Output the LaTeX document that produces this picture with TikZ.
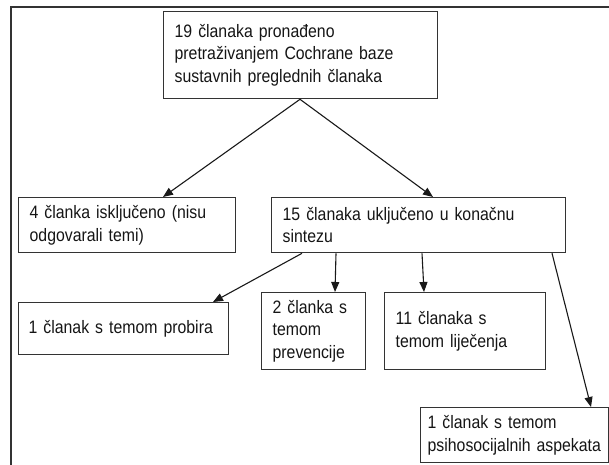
\documentclass[tikz,border=0pt]{standalone}
\usepackage{fontspec}
\setmainfont{Liberation Sans}[FakeStretch=0.88]
\usetikzlibrary{arrows.meta}
\definecolor{lineg}{HTML}{333333}
\definecolor{txtg}{HTML}{151515}
\begin{document}
\begin{tikzpicture}[x=1pt,y=-1pt,
  box/.style={draw=lineg, line width=1.3pt, anchor=north west, align=left,
    inner xsep=11pt, inner ysep=0pt, text=txtg,
    font=\fontsize{18}{22.5}\selectfont},
  arr/.style={draw=black!90, line width=1.1pt, -{Triangle[length=10pt,width=8pt]}}]
\useasboundingbox (0,0) rectangle (609,464);
\draw[lineg, line width=1.5pt] (11,470) -- (11,7) -- (615,7);
\node[box, text width=252pt, minimum height=87pt] (top) at (163,11)
  {19 članaka pronađeno\\pretraživanjem Cochrane baze\\sustavnih preglednih članaka};
\node[box, text width=195pt, minimum height=55pt] (b4) at (18,197)
  {4 članka isključeno (nisu\\odgovarali temi)};
\node[box, text width=272pt, minimum height=55pt] (b15) at (271,197)
  {15 članaka uključeno u konačnu\\sintezu};
\node[box, text width=190pt, inner xsep=10pt, minimum height=52pt] (probira) at (18,302)
  {1 članak s temom probira};
\node[box, text width=82pt, minimum height=77pt] (prev) at (261,292)
  {2 članka s\\temom\\prevencije};
\node[box, text width=139pt, minimum height=77pt] (lijec) at (384,292)
  {11 članaka s\\temom liječenja};
\node[box, text width=174pt, inner xsep=7pt, minimum height=55pt] (psiho) at (420,407)
  {1 članak s temom\\psihosocijalnih aspekata};
\draw[arr] ([xshift=137pt]top.south west) -- ([xshift=145pt]b4.north west);
\draw[arr] ([xshift=137pt]top.south west) -- ([xshift=162pt]b15.north west);
\draw[arr] ([xshift=31pt]b15.south west) -- ([xshift=195pt]probira.north west);
\draw[arr] ([xshift=65pt]b15.south west) -- ([xshift=74pt]prev.north west);
\draw[arr] ([xshift=151pt]b15.south west) -- ([xshift=40pt]lijec.north west);
\draw[arr] ([xshift=281pt]b15.south west) -- ([xshift=171pt]psiho.north west);
\end{tikzpicture}
\end{document}
